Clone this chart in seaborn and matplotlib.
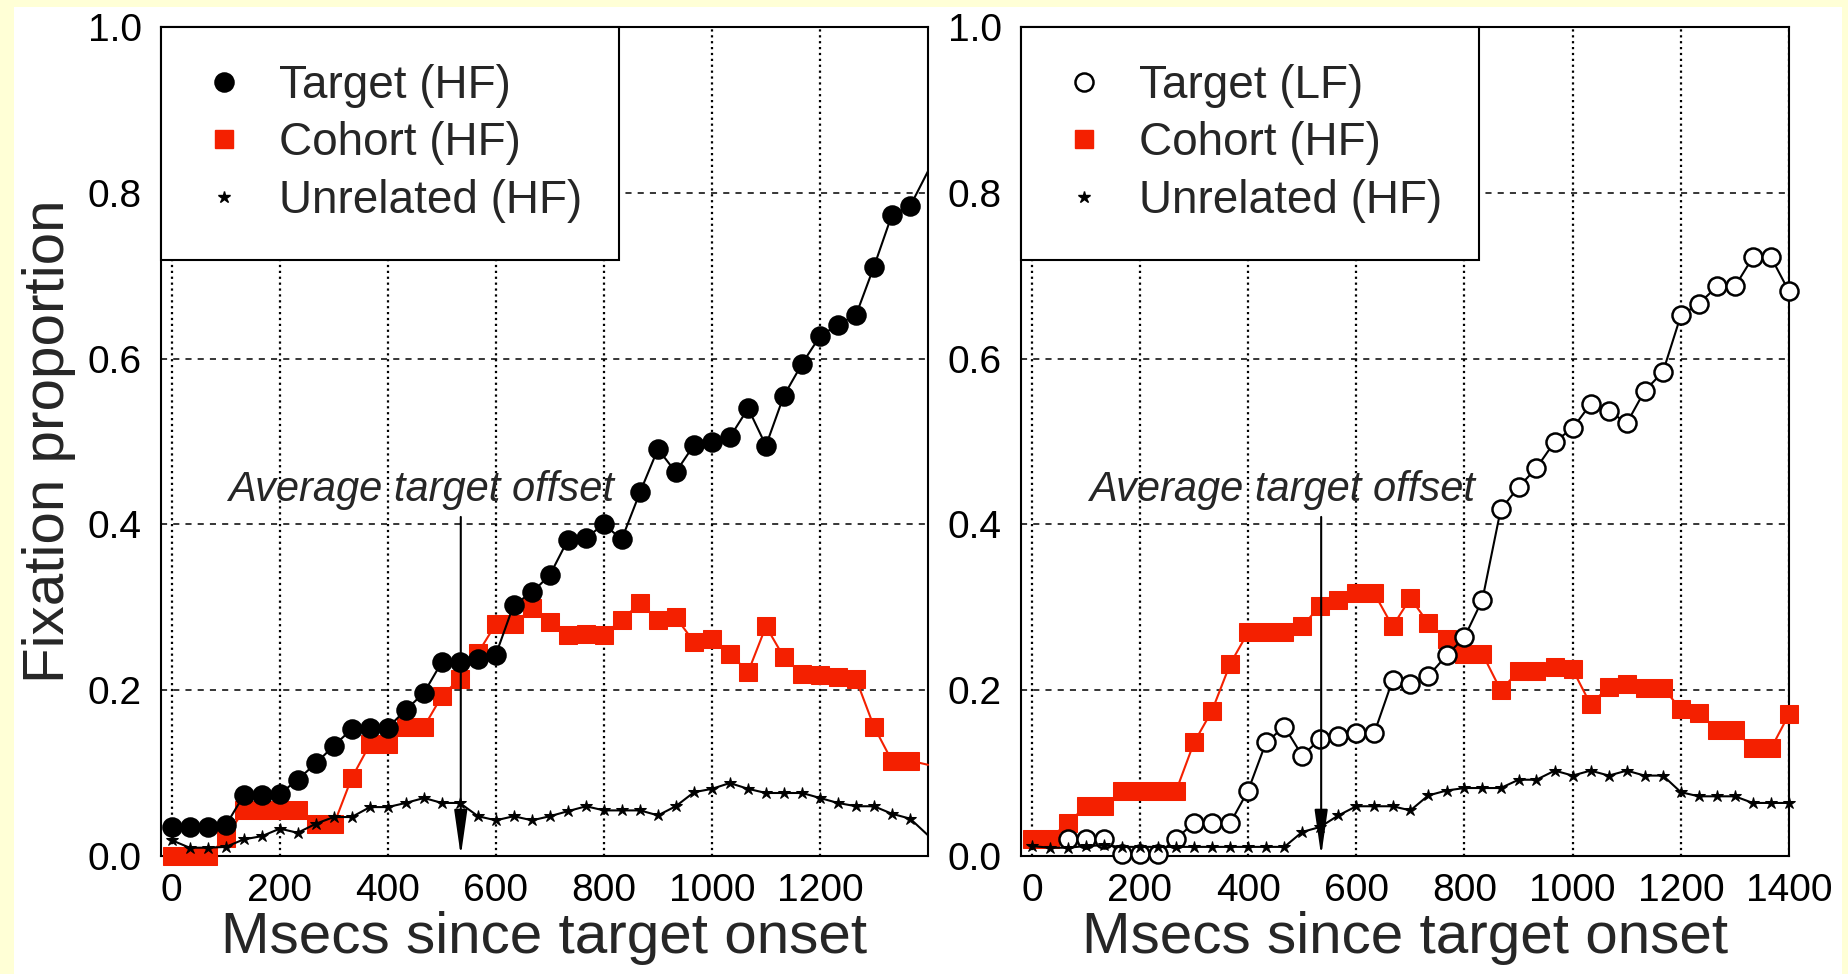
import numpy as np
import pandas as pd
import matplotlib
matplotlib.use('Agg')
import matplotlib.pyplot as plt
from matplotlib.lines import Line2D
from matplotlib.patches import Rectangle
import seaborn as sns

# time bins (ms since target onset)
times = [0, 33, 67, 100, 133, 167, 200, 233, 267, 300, 333, 367, 400, 433, 467,
         500, 533, 567, 600, 633, 667, 700, 733, 767, 800, 833, 867, 900, 933, 967,
         1000, 1033, 1067, 1100, 1133, 1167, 1200, 1233, 1267, 1300, 1333, 1367, 1400]

# left panel: high-frequency target
hf_target = [0.035, 0.035, 0.035, 0.037, 0.073, 0.074, 0.075, 0.092, 0.112, 0.133,
             0.153, 0.155, 0.155, 0.176, 0.197, 0.234, 0.234, 0.238, 0.243, 0.303,
             0.318, 0.339, 0.381, 0.384, 0.400, 0.382, 0.439, 0.491, 0.463, 0.496,
             0.500, 0.505, 0.540, 0.495, 0.555, 0.594, 0.627, 0.641, 0.653, 0.711,
             0.773, 0.784, 0.826]
hf_cohort = [0.0, 0.0, 0.0, 0.022, 0.055, 0.055, 0.055, 0.055, 0.038, 0.038,
             0.094, 0.135, 0.135, 0.156, 0.156, 0.193, 0.214, 0.245, 0.280, 0.280,
             0.299, 0.282, 0.267, 0.268, 0.267, 0.285, 0.305, 0.285, 0.288, 0.258,
             0.262, 0.244, 0.222, 0.277, 0.240, 0.219, 0.218, 0.216, 0.213, 0.156,
             0.115, 0.115, 0.110]
hf_unrel = [0.019, 0.010, 0.010, 0.011, 0.020, 0.024, 0.033, 0.028, 0.039, 0.047,
            0.047, 0.059, 0.059, 0.064, 0.070, 0.064, 0.064, 0.048, 0.043, 0.048,
            0.043, 0.048, 0.054, 0.060, 0.055, 0.055, 0.055, 0.049, 0.060, 0.077,
            0.081, 0.088, 0.081, 0.076, 0.076, 0.076, 0.070, 0.064, 0.060, 0.060,
            0.051, 0.045, 0.025]

# right panel: low-frequency target
lf_target = [np.nan, np.nan, 0.021, 0.021, 0.021, 0.002, 0.002, 0.002, 0.021, 0.040,
             0.040, 0.040, 0.079, 0.137, 0.156, 0.121, 0.141, 0.145, 0.148, 0.148,
             0.212, 0.208, 0.217, 0.242, 0.264, 0.309, 0.418, 0.445, 0.468, 0.500,
             0.516, 0.545, 0.537, 0.522, 0.561, 0.584, 0.652, 0.666, 0.687, 0.687,
             0.722, 0.722, 0.681]
lf_cohort = [0.021, 0.021, 0.040, 0.060, 0.060, 0.079, 0.079, 0.079, 0.079, 0.137,
             0.175, 0.232, 0.270, 0.270, 0.270, 0.277, 0.302, 0.309, 0.317, 0.317,
             0.277, 0.311, 0.281, 0.262, 0.244, 0.244, 0.200, 0.223, 0.223, 0.228,
             0.225, 0.183, 0.204, 0.208, 0.203, 0.203, 0.177, 0.173, 0.152, 0.152,
             0.130, 0.130, 0.171]
lf_unrel = [0.012, 0.010, 0.010, 0.012, 0.013, 0.011, 0.011, 0.011, 0.011, 0.011,
            0.011, 0.011, 0.011, 0.011, 0.011, 0.029, 0.035, 0.049, 0.060, 0.060,
            0.060, 0.055, 0.073, 0.079, 0.082, 0.082, 0.082, 0.092, 0.092, 0.103,
            0.097, 0.103, 0.097, 0.103, 0.097, 0.097, 0.077, 0.072, 0.072, 0.072,
            0.064, 0.064, 0.064]

offset_ms = 535
left_labels = ['Target (HF)', 'Cohort (HF)', 'Unrelated (HF)']
right_labels = ['Target (LF)', 'Cohort (HF)', 'Unrelated (HF)']
left_xticks = [0, 200, 400, 600, 800, 1000, 1200]
right_xticks = [0, 200, 400, 600, 800, 1000, 1200, 1400]
yticks = [0.0, 0.2, 0.4, 0.6, 0.8, 1.0]

sns.set_style('white')
plt.rcParams['font.family'] = ['Liberation Sans', 'DejaVu Sans']

RED = '#f42000'
W, H = 1849, 974
fig = plt.figure(figsize=(W / 100, H / 100), dpi=100, facecolor='#ffffd6')
fig.add_artist(Rectangle((14 / W, 0), (1842 - 14) / W, 967 / H, transform=fig.transFigure,
                         facecolor='white', edgecolor='none', zorder=-5))
ax1 = fig.add_axes([161 / W, 118 / H, 767 / W, 829 / H])
ax2 = fig.add_axes([1021 / W, 118 / H, 768 / W, 829 / H])


def draw_panel(ax, target, cohort, unrel, fill, labels, xticks, last_marker):
    df = pd.DataFrame({'ms': times, 'target': target, 'cohort': cohort, 'unrel': unrel})
    common = dict(ax=ax, lw=1.5, clip_on=False)
    # the left panel shows no markers on the final bin (on the frame)
    if not last_marker:
        common['markevery'] = slice(0, len(times) - 1)
    sns.lineplot(data=df, x='ms', y='cohort', color=RED, marker='s', markersize=12.5,
                 markerfacecolor=RED, markeredgecolor=RED, zorder=3, **common)
    sns.lineplot(data=df, x='ms', y='target', color='black', marker='o', markersize=13,
                 markerfacecolor=fill, markeredgecolor='black', markeredgewidth=1.8,
                 zorder=4, **common)
    sns.lineplot(data=df, x='ms', y='unrel', color='black', marker='*', markersize=9,
                 markerfacecolor='black', markeredgecolor='black', zorder=5, **common)

    ax.set_xlim(-20, 1400)
    ax.set_ylim(0, 1)
    ax.set_xticks(xticks)
    ax.set_xticklabels([str(t) for t in xticks])
    ax.set_yticks(yticks)
    ax.set_yticklabels([f'{t:.1f}' for t in yticks])
    ax.tick_params(axis='both', length=0, labelsize=28, colors='black')
    ax.tick_params(axis='x', pad=12)
    ax.tick_params(axis='y', pad=14)
    ax.set_axisbelow(True)
    ax.grid(axis='x', ls=':', color='black', lw=1.6)
    ax.grid(axis='y', ls=(0, (4, 4)), color='black', lw=1.1)
    for sp in ax.spines.values():
        sp.set_color('black')
        sp.set_linewidth(1.5)
    ax.set_xlabel('Msecs since target onset', fontsize=42, labelpad=2)
    ax.set_ylabel('')

    ax.annotate('', xy=(offset_ms, 0), xytext=(offset_ms, 0.409),
                arrowprops=dict(arrowstyle='-|>,head_length=1.4,head_width=0.2',
                                color='black', lw=1.5, mutation_scale=20,
                                shrinkA=0, shrinkB=0),
                annotation_clip=False, zorder=6)
    ax.text(462, 0.428, 'Average target offset', ha='center', va='baseline',
            style='italic', fontsize=30, zorder=6)

    handles = [Line2D([], [], ls='none', marker='o', ms=13, mfc=fill, mec='black', mew=1.8),
               Line2D([], [], ls='none', marker='s', ms=13, mfc=RED, mec=RED),
               Line2D([], [], ls='none', marker='*', ms=9, mfc='black', mec='black')]
    leg = ax.legend(handles, labels, loc='upper left', bbox_to_anchor=(0, 1),
                    borderaxespad=0, fancybox=False, framealpha=1, edgecolor='black',
                    fontsize=33, handlelength=1.15, handletextpad=0.62,
                    borderpad=0.8, labelspacing=0.3)
    leg.get_frame().set_linewidth(1.5)
    leg.set_zorder(10)


draw_panel(ax1, hf_target, hf_cohort, hf_unrel, 'black', left_labels, left_xticks, False)
draw_panel(ax2, lf_target, lf_cohort, lf_unrel, 'white', right_labels, right_xticks, True)
ax1.set_ylabel('Fixation proportion', fontsize=42, labelpad=8)

fig.savefig('out.png', dpi=100, facecolor=fig.get_facecolor())
